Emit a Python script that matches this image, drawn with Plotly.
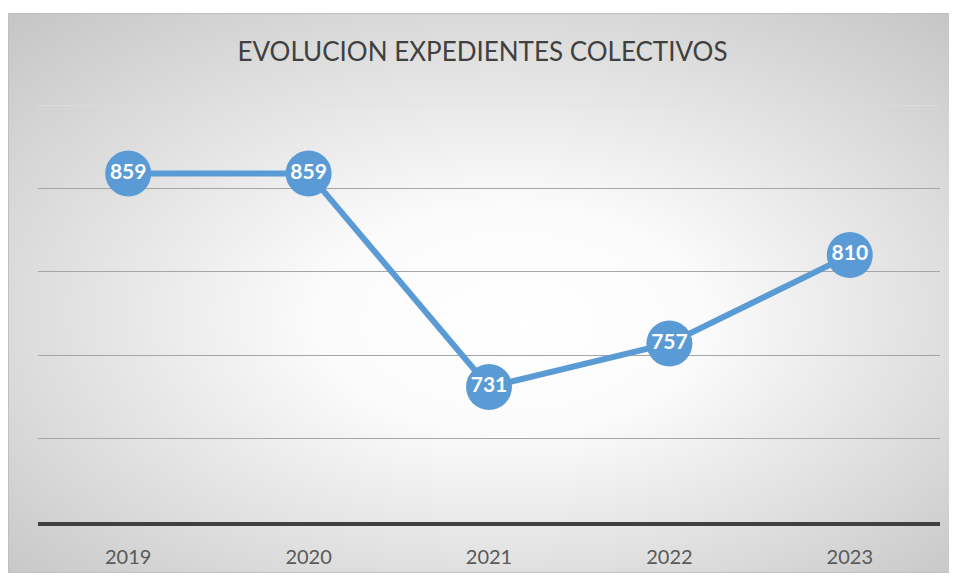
import base64
import plotly.graph_objects as go

# Data
years = ["2019", "2020", "2021", "2022", "2023"]
expedientes = [859, 859, 731, 757, 810]
grid_vals = [700, 750, 800, 850]

BLUE = "#5B9BD5"
FONT = "Lato"

# radial grey-to-white background, like the Excel chart area
svg = """<svg xmlns='http://www.w3.org/2000/svg' width='950' height='566' preserveAspectRatio='none'>
<defs><radialGradient id='g' cx='50%' cy='52%' r='72%' fx='54%' fy='56%'>
<stop offset='0%' stop-color='#ffffff'/>
<stop offset='28%' stop-color='#fbfbfb'/>
<stop offset='100%' stop-color='#c5c5c5'/>
</radialGradient></defs>
<rect width='950' height='566' fill='url(#g)'/></svg>"""
bg_src = "data:image/svg+xml;base64," + base64.b64encode(svg.encode()).decode()

# the page body adds 8px, so the figure is drawn 8px smaller
# pixel -> paper helpers (plot area: x 30..932, y 97..519)
W, H = 949, 572
L, R, T, B = 30, 17, 97, 53
pw, ph = W - L - R, H - T - B
px = lambda x: (x - L) / pw
py = lambda y: (H - B - y) / ph

fig = go.Figure()
fig.add_trace(go.Scatter(
    x=years, y=expedientes, mode="lines+markers+text",
    line=dict(color=BLUE, width=6),
    marker=dict(size=46, color=BLUE),
    text=[str(v) for v in expedientes], textposition="middle center",
    textfont=dict(family=FONT, size=21, color="white", weight="bold"),
    showlegend=False, hoverinfo="x+y", cliponaxis=False))

fig.update_layout(
    width=W, height=H,
    margin=dict(l=L, r=R, t=T, b=B),
    paper_bgcolor="white", plot_bgcolor="rgba(0,0,0,0)",
    title=dict(text="EVOLUCION EXPEDIENTES COLECTIVOS", x=px(481), xanchor="center",
               y=1 - 44 / H, yanchor="middle",
               font=dict(family=FONT, size=26, color="#404040")),
    images=[dict(source=bg_src, xref="paper", yref="paper",
                 x=px(0), y=py(4), sizex=px(949) - px(0), sizey=py(4) - py(570),
                 xanchor="left", yanchor="top", sizing="stretch", layer="below")],
    shapes=[
        dict(type="rect", xref="paper", yref="paper", x0=px(0.5), x1=px(949), y0=py(570), y1=py(4.5),
             line=dict(color="#bfbfbf", width=1), layer="below"),
        dict(type="line", xref="paper", yref="y", x0=0, x1=1, y0=900, y1=900,
             line=dict(color="#e2e2e2", width=1), layer="below"),
    ],
)
fig.update_xaxes(range=[-0.5, len(years) - 0.5], showline=True, linecolor="#404040",
                 linewidth=4, showgrid=False, ticks="", ticklabelstandoff=14,
                 tickfont=dict(family=FONT, size=20, color="#595959"))
fig.update_yaxes(range=[650, 900], tickvals=grid_vals, showticklabels=False,
                 showgrid=True, gridcolor="#a6a6a6", gridwidth=1, zeroline=False)

fig.write_html("out.html")
